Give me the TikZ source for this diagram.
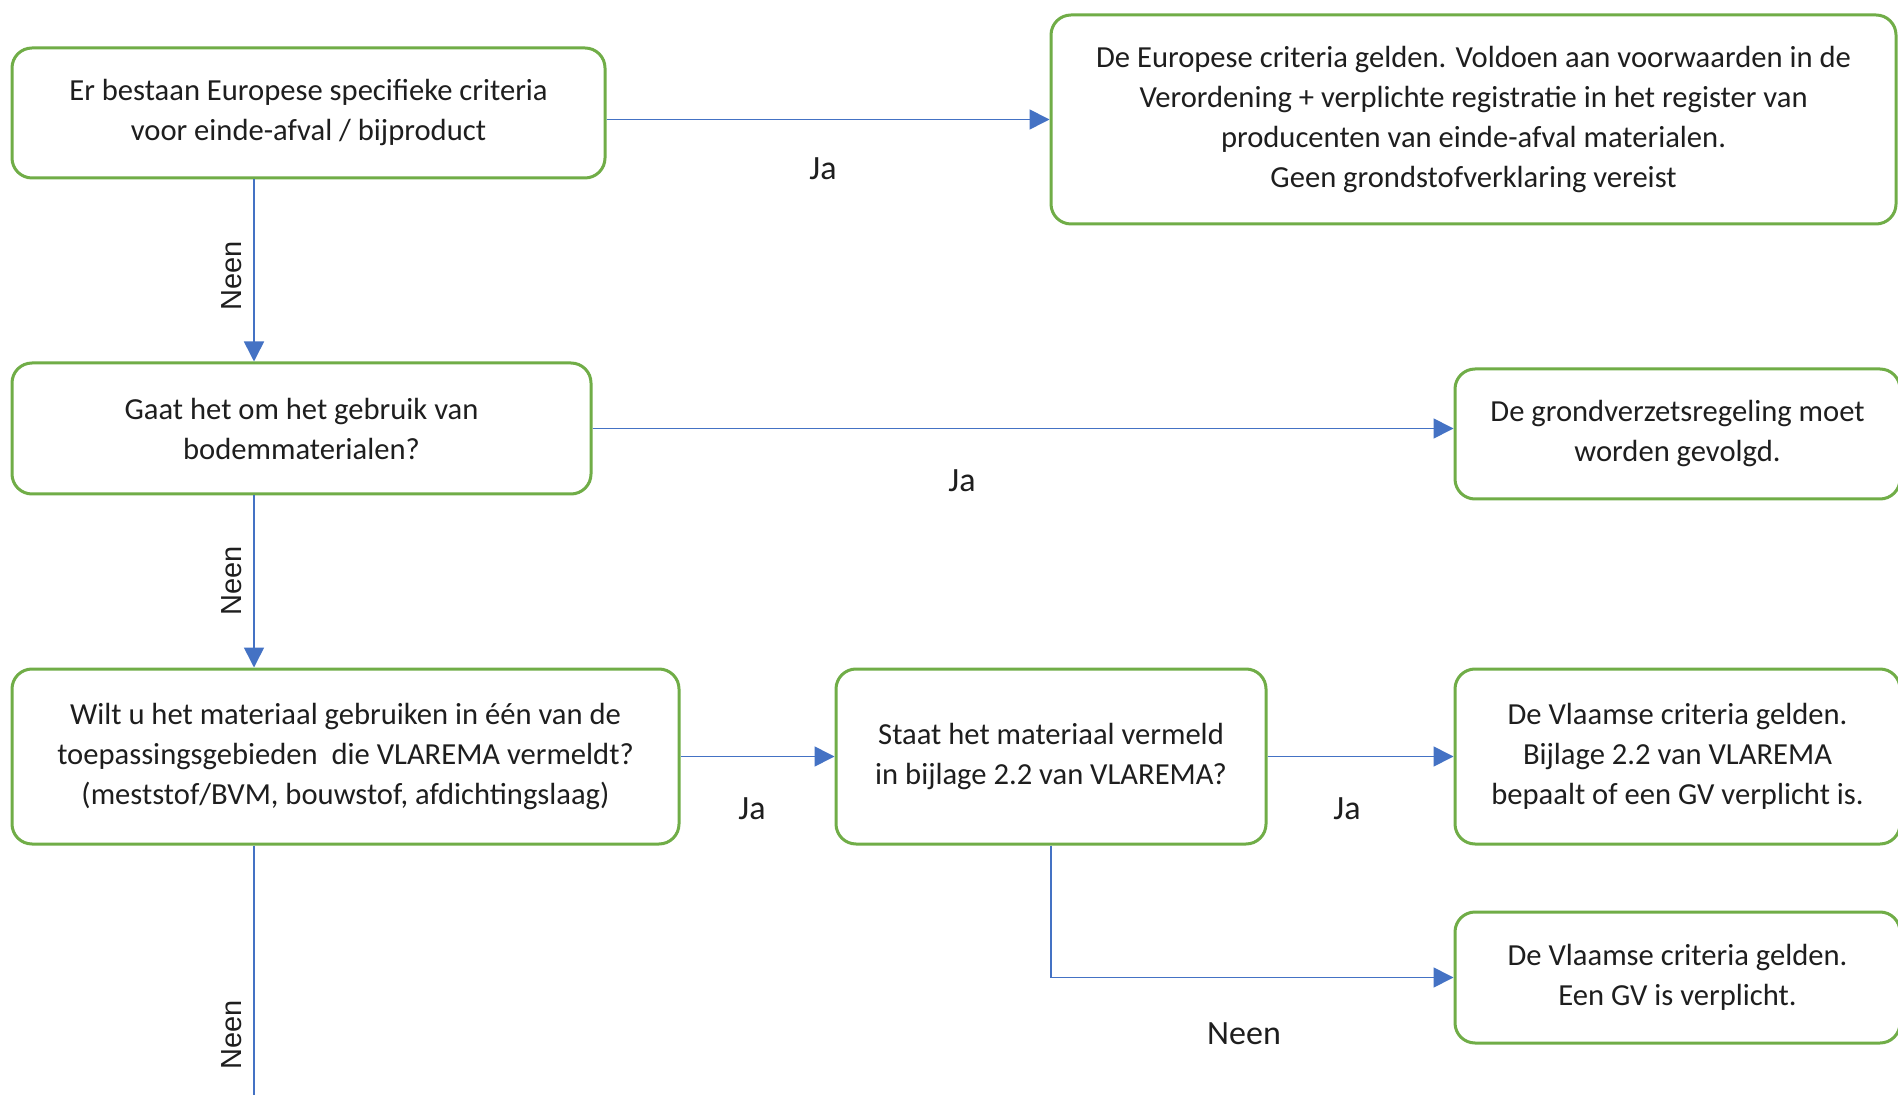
\documentclass[tikz,border=0pt]{standalone}
\usepackage{fontspec}
\setmainfont{Carlito}
\newfontfamily\arialfont{Liberation Sans}
\usetikzlibrary{arrows.meta}
\definecolor{boxgreen}{HTML}{70AD47}
\definecolor{flowblue}{HTML}{4472C4}
\definecolor{txtgray}{HTML}{1E1E1E}

\begin{document}
\begin{tikzpicture}[x=0.5pt,y=-0.5pt]
\tikzstyle{every node}+=[inner sep=0pt, text=txtgray, font=\fontsize{15.3}{20}\selectfont]
\tikzstyle{stepbox}=[draw=boxgreen, line width=1.5pt, rounded corners=10pt, align=center, fill=white]
\tikzstyle{flow}=[draw=flowblue, line width=0.8pt, -{Triangle[length=10pt,width=10pt]}]
\tikzstyle{answer}=[font=\fontsize{17}{20}\selectfont]
\tikzstyle{sideanswer}=[rotate=90, font=\arialfont\fontsize{14.5}{18}\selectfont]
\useasboundingbox (0,0) rectangle (1898,1095);
\fill [white] (0,0) rectangle (1898,1095);
\coordinate (spine) at (254,0);
\coordinate (einde) at (254,1095);
% questions on the left
\node [stepbox, minimum width=296.5pt, minimum height=65pt] (eu) at (308.5,113)
  {Er bestaan Europese specifieke criteria\\voor einde-afval / bijproduct};
\node [stepbox, minimum width=289.5pt, minimum height=65.5pt] (bodem) at (301.5,428.5)
  {Gaat het om het gebruik van\\bodemmaterialen?};
\node [stepbox, minimum width=333.5pt, minimum height=87.5pt] (vlarema) at (345.5,756.5)
  {Wilt u het materiaal gebruiken in één van de\\toepassingsgebieden\ \ die VLAREMA vermeldt?\\(meststof/BVM, bouwstof, afdichtingslaag)};
\node [stepbox, minimum width=215pt, minimum height=87.5pt] (bijlage) at (1051,756.5)
  {Staat het materiaal vermeld\\in bijlage 2.2 van VLAREMA?};
% outcomes on the right
\node [stepbox, minimum width=422.5pt, minimum height=104.5pt] (eucrit) at (1473.5,119.5)
  {De Europese criteria gelden. Voldoen aan voorwaarden in de\\Verordening + verplichte registratie in het register van\\producenten van einde-afval materialen.\\Geen grondstofverklaring vereist};
\node [stepbox, minimum width=222.5pt, minimum height=65pt] (grond) at (1677.5,434)
  {De grondverzetsregeling moet\\worden gevolgd.};
\node [stepbox, minimum width=222.5pt, minimum height=87.5pt] (gvbijl) at (1677.5,756.5)
  {De Vlaamse criteria gelden.\\Bijlage 2.2 van VLAREMA\\bepaalt of een GV verplicht is.};
\node [stepbox, minimum width=222.5pt, minimum height=65.5pt] (gvplicht) at (1677.5,977.5)
  {De Vlaamse criteria gelden.\\Een GV is verplicht.};
% connectors
\draw [flow] (eu.east |- eucrit.west) -- (eucrit.west);
\node [answer] (ja1) at (823,169) {Ja};
\draw [flow] (eu.south -| spine) -- (bodem.north -| spine);
\node [sideanswer] (neen1) at (232,276) {Neen};
\draw [flow] (bodem.east) -- (bodem.east -| grond.west);
\node [answer] (ja2) at (962,481) {Ja};
\draw [flow] (bodem.south -| spine) -- (vlarema.north -| spine);
\node [sideanswer] (neen2) at (232,581) {Neen};
\draw [flow] (vlarema.east) -- (bijlage.west);
\node [answer] (ja3) at (752,809) {Ja};
\draw [flow] (bijlage.east) -- (gvbijl.west);
\node [answer] (ja4) at (1347,809) {Ja};
\draw [flow] (bijlage.south) |- (gvplicht.west);
\node [answer] (neen4) at (1244,1034) {Neen};
\draw [draw=flowblue, line width=0.8pt] (vlarema.south -| spine) -- (einde);
\node [sideanswer] (neen3) at (232,1035) {Neen};
\end{tikzpicture}
\end{document}
